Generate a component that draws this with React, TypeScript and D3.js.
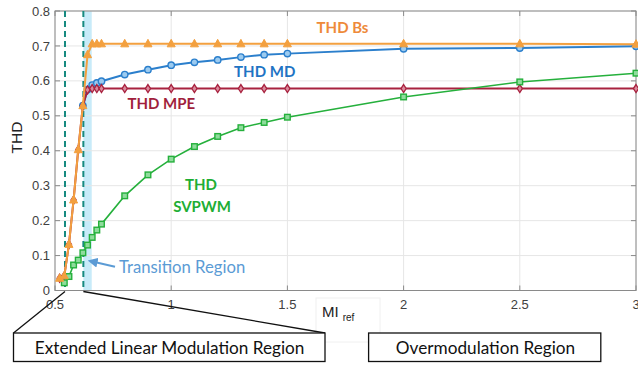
import React from "react";
import * as d3 from "d3";

// Reference modulation index values (MI_ref)
const miRef = [0.52, 0.54, 0.56, 0.58, 0.6, 0.62, 0.64, 0.66, 0.68, 0.7, 0.8, 0.9, 1.0, 1.1, 1.2, 1.3, 1.4, 1.5, 2.0, 2.5, 3.0];

// THD per modulation strategy (null = not simulated at that MI)
const thdBs = [0.035, 0.042, 0.132, 0.259, 0.403, 0.529, 0.675, 0.706, 0.706, 0.706, 0.706, 0.706, 0.706, 0.706, 0.706, 0.706, 0.706, 0.706, 0.706, 0.706, 0.705];
const thdMd = [null, null, null, null, null, 0.529, 0.575, 0.588, 0.594, 0.599, 0.618, 0.632, 0.645, 0.653, 0.66, 0.668, 0.675, 0.678, 0.692, 0.694, 0.699];
const thdMpe = [0.035, 0.042, 0.132, 0.259, 0.403, 0.529, 0.574, 0.578, 0.578, 0.578, 0.578, 0.578, 0.578, 0.578, 0.578, 0.578, 0.578, 0.578, 0.578, 0.578, 0.578];
const thdSvpwm = [null, 0.022, 0.04, 0.073, 0.087, 0.108, 0.13, 0.152, 0.173, 0.19, 0.271, 0.331, 0.376, 0.412, 0.441, 0.466, 0.481, 0.496, 0.554, 0.597, 0.622];

const xTicks = [0.5, 1, 1.5, 2, 2.5, 3];
const yTicks = [0, 0.1, 0.2, 0.3, 0.4, 0.5, 0.6, 0.7, 0.8];

// Region boundaries along MI_ref
const linearLimit = 0.543;
const transitionStart = 0.622;
const transitionEnd = 0.658;

const W = 638;
const H = 367;
const left = 55;
const right = 636;
const top = 11;
const bottom = 290.5;

const x = d3.scaleLinear().domain([0.5, 3]).range([left, right]);
const y = d3.scaleLinear().domain([0, 0.8]).range([bottom, top]);

type Pt = [number, number | null];
const pts = (vals: (number | null)[]): Pt[] => miRef.map((m, i) => [m, vals[i]]);

const line = d3
  .line<Pt>()
  .defined((d) => d[1] !== null)
  .x((d) => x(d[0]))
  .y((d) => y(d[1] as number));

const tickFont = "'Liberation Sans', Arial, sans-serif";
const noteFont = "Lato, 'Open Sans', sans-serif";

const C = {
  bs: "#f3a03f",
  bsText: "#ee8a3a",
  md: "#2b7fcc",
  mdText: "#1f74c4",
  mpe: "#a8223f",
  mpeText: "#a11f3d",
  sv: "#25b03c",
  svText: "#1eae34",
  dash: "#178a80",
  band: "#c8ebf9",
  trans: "#5b9bd5",
};

function Series({ vals, color, width, marker }: { vals: (number | null)[]; color: string; width: number; marker: "tri" | "circ" | "diam" | "sq" }) {
  const data = pts(vals).filter((d) => d[1] !== null);
  return (
    <g>
      <path d={line(pts(vals)) || ""} fill="none" stroke={color} strokeWidth={width} strokeLinejoin="round" />
      {data.map((d, i) => {
        const cx = x(d[0]);
        const cy = y(d[1] as number);
        if (marker === "tri")
          return <path key={i} d={`M${cx},${cy - 4.5}L${cx + 4},${cy + 3}L${cx - 4},${cy + 3}Z`} fill={color} stroke={color} strokeWidth={1} />;
        if (marker === "circ")
          return <circle key={i} cx={cx} cy={cy} r={3.2} fill="#9ccbf0" stroke={color} strokeWidth={1.4} />;
        if (marker === "diam")
          return <path key={i} d={`M${cx},${cy - 4}L${cx + 2.6},${cy}L${cx},${cy + 4}L${cx - 2.6},${cy}Z`} fill="#d98a9c" stroke={color} strokeWidth={1.3} />;
        return <rect key={i} x={cx - 2.8} y={cy - 2.8} width={5.6} height={5.6} fill="#8fdc9c" stroke={color} strokeWidth={1.4} />;
      })}
    </g>
  );
}

export default function App() {
  return (
    <div style={{ position: "fixed", left: 0, top: 0 }}>
      <svg width={W} height={H} viewBox={`0 0 ${W} ${H}`} style={{ display: "block", background: "#fff" }}>
        {/* transition band */}
        <rect x={x(transitionStart)} y={top} width={x(transitionEnd) - x(transitionStart)} height={bottom - top} fill={C.band} />

        {/* grid */}
        {xTicks.map((t) => (
          <line key={"gx" + t} x1={x(t)} x2={x(t)} y1={top} y2={bottom} stroke="#e6e6e6" strokeWidth={1} />
        ))}
        {yTicks.map((t) => (
          <line key={"gy" + t} x1={left} x2={right} y1={y(t)} y2={y(t)} stroke="#e6e6e6" strokeWidth={1} />
        ))}

        {/* axes box + inward ticks */}
        <rect x={left} y={top} width={right - left} height={bottom - top} fill="none" stroke="#8a8a8a" strokeWidth={1} />
        {xTicks.map((t) => (
          <g key={"tx" + t}>
            <line x1={x(t)} x2={x(t)} y1={bottom} y2={bottom - 5} stroke="#8a8a8a" />
            <line x1={x(t)} x2={x(t)} y1={top} y2={top + 5} stroke="#8a8a8a" />
          </g>
        ))}
        {yTicks.map((t) => (
          <g key={"ty" + t}>
            <line x1={left} x2={left + 5} y1={y(t)} y2={y(t)} stroke="#8a8a8a" />
            <line x1={right} x2={right - 5} y1={y(t)} y2={y(t)} stroke="#8a8a8a" />
          </g>
        ))}

        {/* region boundaries */}
        {[linearLimit, transitionStart].map((m) => (
          <line key={"d" + m} x1={x(m)} x2={x(m)} y1={top} y2={bottom} stroke={C.dash} strokeWidth={2} strokeDasharray="6,4" />
        ))}

        {/* data series */}
        <Series vals={thdMd} color={C.md} width={2} marker="circ" />
        <Series vals={thdMpe} color={C.mpe} width={2} marker="diam" />
        <Series vals={thdSvpwm} color={C.sv} width={1.6} marker="sq" />
        <Series vals={thdBs} color={C.bs} width={2} marker="tri" />

        {/* tick labels */}
        {xTicks.map((t) => (
          <text key={"lx" + t} x={x(t)} y={308.5} textAnchor="middle" fontFamily={tickFont} fontSize={13} fill="#404040">
            {String(t)}
          </text>
        ))}
        {yTicks.map((t) => (
          <text key={"ly" + t} x={50} y={y(t) + 4.6} textAnchor="end" fontFamily={tickFont} fontSize={13} fill="#404040">
            {String(t)}
          </text>
        ))}

        {/* axis titles */}
        <text transform="translate(21.5,137.5) rotate(-90)" textAnchor="middle" fontFamily={tickFont} fontSize={15.5} fill="#222">
          THD
        </text>
        <rect x={316} y={298} width={64} height={44} fill="none" stroke="#f0f0f0" strokeWidth={1} />
        <text x={322} y={317} fontFamily={tickFont} fontSize={15} fill="#222">
          MI
          <tspan fontSize={10} dx={4} dy={4}>ref</tspan>
        </text>

        {/* series annotations */}
        <text x={342.5} y={32.5} textAnchor="middle" fontFamily={noteFont} fontWeight="bold" fontSize={15} fill={C.bsText}>THD Bs</text>
        <text x={264.7} y={77} textAnchor="middle" fontFamily={noteFont} fontWeight="bold" fontSize={15} fill={C.mdText}>THD MD</text>
        <text x={161.3} y={108.5} textAnchor="middle" fontFamily={noteFont} fontWeight="bold" fontSize={15} fill={C.mpeText}>THD MPE</text>
        <text x={201} y={189.5} textAnchor="middle" fontFamily={noteFont} fontWeight="bold" fontSize={15} fill={C.svText}>THD</text>
        <text x={202} y={211.5} textAnchor="middle" fontFamily={noteFont} fontWeight="bold" fontSize={15} fill={C.svText}>SVPWM</text>

        {/* transition region pointer */}
        <defs>
          <marker id="arrowHead" viewBox="0 0 10 10" refX={2} refY={5} markerWidth={5} markerHeight={5} orient="auto-start-reverse">
            <path d="M0,0L10,5L0,10Z" fill={C.trans} />
          </marker>
        </defs>
        <line x1={115} y1={266.7} x2={95.5} y2={262.2} stroke={C.trans} strokeWidth={2} markerEnd="url(#arrowHead)" />
        <text x={119} y={273} fontFamily={noteFont} fontSize={16.7} fill={C.trans}>Transition Region</text>

        {/* region callouts */}
        <line x1={x(linearLimit)} y1={bottom + 1} x2={13.5} y2={333} stroke="#111" strokeWidth={1.3} />
        <line x1={x(transitionStart)} y1={bottom + 1} x2={325} y2={333} stroke="#111" strokeWidth={1.3} />
        <rect x={13.5} y={333} width={311.5} height={28.5} fill="#fff" stroke="#111" strokeWidth={1.3} />
        <text x={169.6} y={354} textAnchor="middle" fontFamily={noteFont} fontSize={17.2} fill="#111">Extended Linear Modulation Region</text>
        <rect x={368.6} y={333} width={232.2} height={28.5} fill="#fff" stroke="#111" strokeWidth={1.3} />
        <text x={485.5} y={354} textAnchor="middle" fontFamily={noteFont} fontSize={17.2} fill="#111">Overmodulation Region</text>
      </svg>
    </div>
  );
}
